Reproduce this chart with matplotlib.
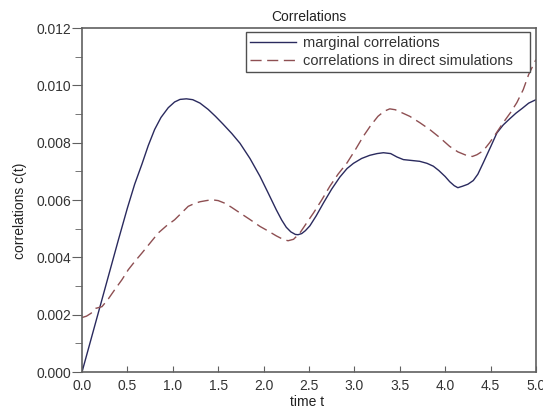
import matplotlib
matplotlib.use('Agg')
import matplotlib.pyplot as plt
from matplotlib.ticker import MultipleLocator

plt.rcParams['font.family'] = ['Liberation Sans', 'DejaVu Sans']

# marginal correlations (solid)
t_marg = [0.0, 0.10, 0.20, 0.30, 0.40, 0.50, 0.58, 0.66, 0.73, 0.80, 0.87, 0.95, 1.02,
          1.08, 1.15, 1.22, 1.30, 1.39, 1.47, 1.55, 1.65, 1.74, 1.85, 1.96, 2.05, 2.14,
          2.20, 2.25, 2.30, 2.35, 2.38, 2.42, 2.46, 2.51, 2.58, 2.66, 2.75, 2.84, 2.92,
          2.99, 3.08, 3.17, 3.25, 3.32, 3.40, 3.47, 3.54, 3.63, 3.72, 3.80, 3.87, 3.93,
          4.00, 4.05, 4.10, 4.14, 4.19, 4.25, 4.31, 4.36, 4.42, 4.50, 4.57, 4.64, 4.71,
          4.78, 4.85, 4.92, 5.0]
c_marg = [0.0, 0.00115, 0.00230, 0.00345, 0.00460, 0.00572, 0.00655, 0.00725, 0.00790,
          0.00846, 0.00888, 0.00922, 0.00942, 0.00951, 0.00953, 0.00950, 0.00938,
          0.00916, 0.00892, 0.00866, 0.00832, 0.00798, 0.00745, 0.00683, 0.00625,
          0.00566, 0.00530, 0.00505, 0.00489, 0.00480, 0.00479, 0.00483, 0.00493,
          0.00510, 0.00545, 0.00590, 0.00638, 0.00680, 0.00710, 0.00728, 0.00745,
          0.00756, 0.00762, 0.00765, 0.00762, 0.00750, 0.00741, 0.00738, 0.00735,
          0.00728, 0.00718, 0.00703, 0.00682, 0.00664, 0.00650, 0.00643, 0.00648,
          0.00655, 0.00668, 0.00690, 0.00730, 0.00785, 0.00834, 0.00862, 0.00883,
          0.00903, 0.00920, 0.00938, 0.00950]

# correlations in direct simulations (dashed)
t_dir = [0.0, 0.05, 0.10, 0.15, 0.22, 0.29, 0.36, 0.44, 0.51, 0.58, 0.66, 0.75, 0.84,
         0.93, 1.02, 1.10, 1.17, 1.24, 1.30, 1.37, 1.43, 1.50, 1.58, 1.65, 1.74, 1.85,
         1.96, 2.05, 2.14, 2.22, 2.27, 2.33, 2.40, 2.47, 2.55, 2.64, 2.73, 2.82, 2.92,
         3.01, 3.10, 3.18, 3.26, 3.33, 3.39, 3.45, 3.52, 3.61, 3.72, 3.83, 3.94, 4.05,
         4.14, 4.24, 4.30, 4.35, 4.42, 4.49, 4.56, 4.64, 4.72, 4.79, 4.86, 4.92, 5.0]
c_dir = [0.00190, 0.00195, 0.00205, 0.00222, 0.00228, 0.00255, 0.00287, 0.00322,
         0.00357, 0.00385, 0.00415, 0.00450, 0.00485, 0.00510, 0.00531, 0.00556,
         0.00578, 0.00588, 0.00594, 0.00598, 0.00601, 0.00598, 0.00588, 0.00574,
         0.00555, 0.00532, 0.00508, 0.00492, 0.00475, 0.00462, 0.00458, 0.00463,
         0.00485, 0.00518, 0.00555, 0.00600, 0.00648, 0.00690, 0.00730, 0.00775,
         0.00823, 0.00860, 0.00892, 0.00910, 0.00918, 0.00915, 0.00905, 0.00892,
         0.00870, 0.00846, 0.00818, 0.00787, 0.00768, 0.00755, 0.00752, 0.00758,
         0.00772, 0.00800, 0.00832, 0.00870, 0.00905, 0.00940, 0.00985, 0.01038,
         0.01090]

fig = plt.figure(figsize=(5.43, 4.12), dpi=100)
ax = fig.add_axes([0.151, 0.097, 0.836, 0.835])

ax.plot(t_marg, c_marg, color='#2a2a5e', lw=1.0, label='marginal correlations')
ax.plot(t_dir, c_dir, color='#8e4f52', lw=1.0, dashes=(8, 4),
        label='correlations in direct simulations')

ax.set_xlim(0, 5)
ax.set_ylim(0, 0.012)
ax.xaxis.set_major_locator(MultipleLocator(0.5))
ax.yaxis.set_major_locator(MultipleLocator(0.002))
ax.yaxis.set_minor_locator(MultipleLocator(0.001))
ax.xaxis.set_major_formatter(plt.FuncFormatter(lambda v, p: f'{v:.1f}'))
ax.yaxis.set_major_formatter(plt.FuncFormatter(lambda v, p: f'{v:.3f}'))

for s in ax.spines.values():
    s.set_color('#606060')
    s.set_linewidth(1.2)

ax.tick_params(axis='y', which='major', direction='out', length=7, color='#606060',
               labelsize=10, labelcolor='#333333', pad=1)
ax.tick_params(axis='y', which='minor', direction='out', length=5, color='#606060')
ax.tick_params(axis='x', direction='in', length=4, color='#606060',
               labelsize=10, labelcolor='#333333', pad=5)
ax.tick_params(right=False, top=False)

ax.set_title('Correlations', fontsize=10, color='#222222', pad=5)
ax.set_xlabel('time t', fontsize=10, color='#222222')
ax.set_ylabel('correlations c(t)', fontsize=10, color='#222222')
ax.xaxis.set_label_coords(0.495, -0.068)
ax.yaxis.set_label_coords(-0.122, 0.47)

leg = ax.legend(loc='upper left', bbox_to_anchor=(0.361, 0.5, 0.626, 0.488),
                mode='expand', fontsize=10.5,
                fancybox=False, framealpha=1, edgecolor='#505050',
                handlelength=3.15, handletextpad=0.48, borderpad=0.27,
                labelspacing=0.3, borderaxespad=0)
leg.get_frame().set_linewidth(1.0)
for txt in leg.get_texts():
    txt.set_color('#333333')

fig.savefig('out.png', dpi=100)
